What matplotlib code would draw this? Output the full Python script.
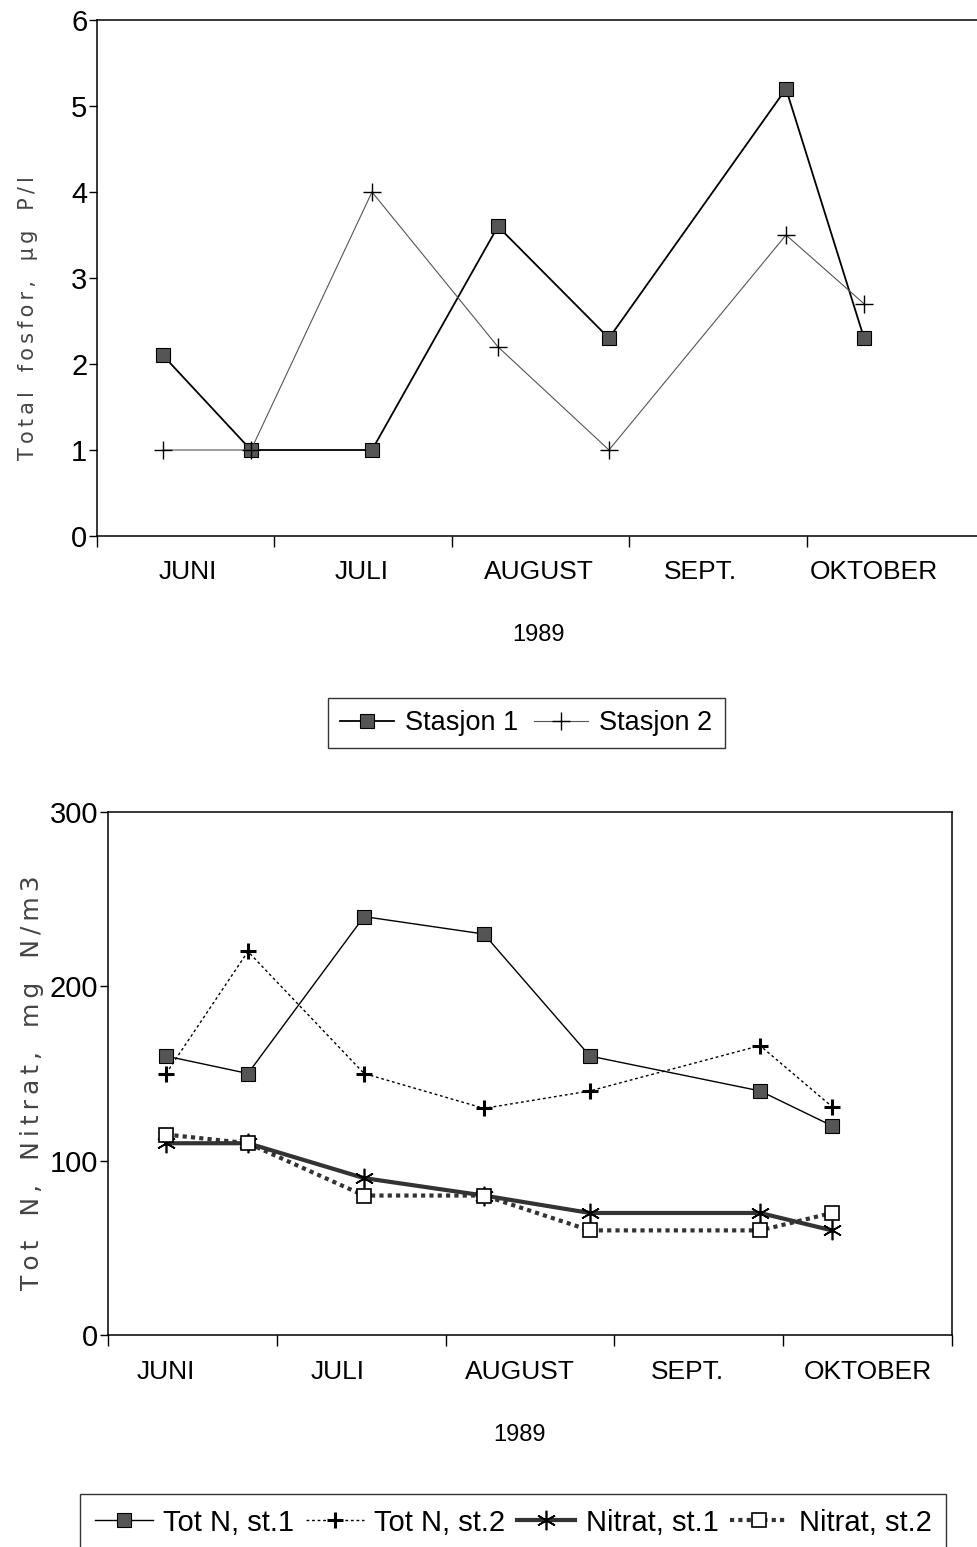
import numpy as np
import matplotlib
matplotlib.use("Agg")
import matplotlib.pyplot as plt
from matplotlib.ticker import FixedLocator, NullFormatter, FixedFormatter

plt.rcParams['font.family'] = ['Liberation Sans', 'DejaVu Sans']

# sampling positions in month units (0 = start of June)
x_p = [0.372, 0.868, 1.550, 2.260, 2.886, 3.884, 4.324]
stasjon1 = [2.1, 1.0, 1.0, 3.6, 2.3, 5.2, 2.3]
stasjon2 = [1.0, 1.0, 4.0, 2.2, 1.0, 3.5, 2.7]

x_n = [0.344, 0.829, 1.517, 2.227, 2.855, 3.863, 4.289]
totn_st1 = [160, 150, 240, 230, 160, 140, 120]
totn_st2 = [150, 220, 150, 130, 140, 166, 131]
nitrat_st1 = [110, 110, 90, 80, 70, 70, 60]
nitrat_st2 = [115, 110, 80, 80, 60, 60, 70]

months = ["JUNI", "JULI", "AUGUST", "SEPT.", "OKTOBER"]
month_pos_top = [0.51, 1.49, 2.49, 3.40, 4.38]
month_pos_bot = [0.34, 1.36, 2.44, 3.43, 4.50]

W, H = 977, 1547
fig = plt.figure(figsize=(W / 100, H / 100), dpi=100)


def spaced(s):
    # wide letter spacing like the old plotter font
    return "   ".join("\u2009".join(w) for w in s.split(" "))


def px_axes(left, right, top, bottom):
    return fig.add_axes([left / W, 1 - bottom / H, (right - left) / W, (bottom - top) / H])


def style_axes(ax, ymax, ystep, mpos, pad):
    ax.set_xlim(0, 5)
    ax.set_ylim(0, ymax)
    ax.set_yticks(np.arange(0, ymax + ystep / 2, ystep))
    ax.xaxis.set_major_locator(FixedLocator([0, 1, 2, 3, 4, 5]))
    ax.xaxis.set_major_formatter(NullFormatter())
    ax.xaxis.set_minor_locator(FixedLocator(mpos))
    ax.xaxis.set_minor_formatter(FixedFormatter(months))
    ax.tick_params(axis='x', which='major', direction='out', length=8, width=1)
    ax.tick_params(axis='x', which='minor', length=0, pad=pad, labelsize=19)
    ax.tick_params(axis='y', direction='out', length=6, width=1, labelsize=21, pad=1)
    for s in ax.spines.values():
        s.set_linewidth(1.1)


# ---- top chart: total fosfor
ax1 = px_axes(97, 984, 20, 536)
ax1.plot(x_p, stasjon1, color='black', lw=1.3, marker='s', ms=10,
         mfc='#555555', mec='black', mew=0.8, label='Stasjon 1')
ax1.plot(x_p, stasjon2, color='#555555', lw=0.8, marker='+', ms=13,
         mec='black', mew=1.0, label='Stasjon 2')
style_axes(ax1, 6, 1, month_pos_top, 17)
fig.text(28 / W, 1 - 318 / H, spaced("Total fosfor, µg P/l"), rotation=90,
         ha='center', va='center', fontsize=15, color='#444444', family='DejaVu Sans')
ax1.text(2.49, -0.17, "1989", transform=ax1.get_xaxis_transform(), ha='center',
         va='top', fontsize=17)
leg1 = ax1.legend(loc='center', bbox_to_anchor=(526 / W, 1 - 723 / H),
                  bbox_transform=fig.transFigure, ncol=2, fontsize=19.5,
                  frameon=True, fancybox=False, edgecolor='black',
                  handlelength=2.0, columnspacing=0.6, handletextpad=0.4,
                  borderpad=0.45)
leg1.get_frame().set_linewidth(1.0)

# ---- bottom chart: nitrogen
ax2 = px_axes(108, 952, 812, 1335)
ax2.plot(x_n, totn_st1, color='black', lw=1.0, marker='s', ms=10,
         mfc='#555555', mec='black', mew=0.8, label='Tot N, st.1')
ax2.plot(x_n, totn_st2, color='black', lw=1.0, ls=(0, (2, 2)), marker='+', ms=12,
         mec='black', mew=2.2, label='Tot N, st.2')
ax2.plot(x_n, nitrat_st1, color='#333333', lw=3.0, marker=(6, 2, 0), ms=14,
         mec='black', mew=1.2, label='Nitrat, st.1')
ax2.plot(x_n, nitrat_st2, color='#333333', lw=3.0, ls=(0, (1, 1)), marker='s', ms=10,
         mfc='white', mec='black', mew=1.2, label='Nitrat, st.2')
style_axes(ax2, 300, 100, month_pos_bot, 18)
fig.text(32 / W, 1 - 1083 / H, spaced("Tot N, Nitrat, mg N/m3"), rotation=90,
         ha='center', va='center', fontsize=18, color='#444444', family='DejaVu Sans')
ax2.text(2.44, -0.17, "1989", transform=ax2.get_xaxis_transform(), ha='center',
         va='top', fontsize=17)
leg2 = ax2.legend(loc='upper left', bbox_to_anchor=(80 / W, 1 - 1494 / H),
                  bbox_transform=fig.transFigure, ncol=4, fontsize=21,
                  frameon=True, fancybox=False, edgecolor='black',
                  handlelength=2.0, columnspacing=0.4, handletextpad=0.35,
                  borderpad=0.5, borderaxespad=0)
leg2.get_frame().set_linewidth(1.0)

fig.savefig("out.png", dpi=100, facecolor='white')
